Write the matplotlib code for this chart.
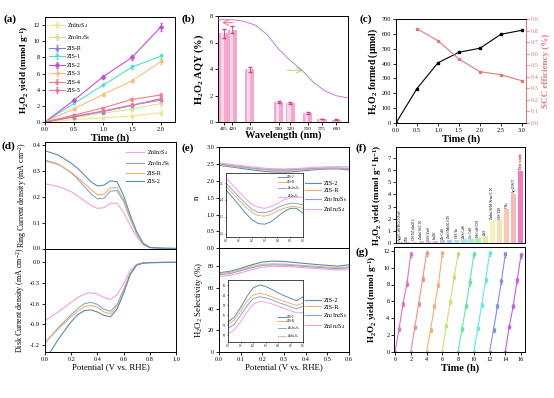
import numpy as np
import matplotlib
matplotlib.use('Agg')
import matplotlib.pyplot as plt

#%% Style
plt.rcParams['font.family'] = 'Liberation Serif'
plt.rcParams['mathtext.fontset'] = 'custom'
plt.rcParams['mathtext.rm'] = 'Liberation Serif'
plt.rcParams['mathtext.it'] = 'Liberation Serif:italic'
plt.rcParams['mathtext.bf'] = 'Liberation Serif:bold'
plt.rcParams['mathtext.default'] = 'regular'
plt.rcParams['axes.linewidth'] = 0.7
plt.rcParams['xtick.major.width'] = 0.6
plt.rcParams['ytick.major.width'] = 0.6
plt.rcParams['xtick.major.size'] = 2
plt.rcParams['ytick.major.size'] = 2
plt.rcParams['xtick.labelsize'] = 4.5
plt.rcParams['ytick.labelsize'] = 4.5
plt.rcParams['xtick.major.pad'] = 1.5
plt.rcParams['ytick.major.pad'] = 1.5

#%% Data
# (a) H2O2 yield vs time
time_a = [0, 0.5, 1.0, 1.5, 2.0]
samples_a = ['ZnIn$_2$S$_4$', 'Zn$_3$In$_2$S$_6$', 'ZIS-R', 'ZIS-1', 'ZIS-2', 'ZIS-3', 'ZIS-4', 'ZIS-5']
yield_znin2s4 = [0, 0.3, 0.5, 0.75, 1.15]
yield_zn3in2s6 = [0, 0.55, 1.1, 1.6, 2.3]
yield_zisr = [0, 0.65, 1.3, 2.05, 2.9]
yield_zis1 = [0, 2.3, 4.55, 6.8, 8.15]
yield_zis2 = [0, 2.7, 5.6, 8.0, 11.8]
yield_zis3 = [0, 1.65, 3.4, 5.1, 7.5]
yield_zis4 = [0, 0.85, 1.75, 2.8, 3.35]
yield_zis5 = [0, 0.7, 1.35, 2.1, 2.7]
err_a = [0, 0.12, 0.15, 0.2, 0.3]
err_zis2 = [0, 0.15, 0.25, 0.35, 0.5]

# (b) AQY vs wavelength
wavelength_b = [405, 420, 450, 500, 520, 550, 575, 600]
aqy_b = [6.7, 6.98, 3.98, 1.5, 1.43, 0.68, 0.22, 0.18]
aqy_err_b = [0.35, 0.3, 0.18, 0.08, 0.08, 0.05, 0.03, 0.03]
abs_wavelength = [395, 420, 440, 460, 480, 500, 520, 540, 560, 580, 600, 620]
abs_curve = [7.72, 7.72, 7.6, 7.3, 6.6, 5.5, 4.65, 3.92, 3.0, 2.35, 1.98, 1.82]

# (c) H2O2 formed and SCC efficiency
time_c = [0, 0.5, 1.0, 1.5, 2.0, 2.5, 3.0]
h2o2_formed = [0, 232, 405, 476, 503, 597, 624]
time_scc = [0.5, 1.0, 1.5, 2.0, 2.5, 3.0]
scc_eff = [0.816, 0.712, 0.554, 0.444, 0.418, 0.366]

# (d) RRDE ring / disk currents
potential_d = [0, 0.1, 0.2, 0.25, 0.3, 0.35, 0.4, 0.45, 0.5, 0.55, 0.6, 0.65, 0.7, 0.75, 0.8, 0.9, 1.0]
samples_d = ['ZnIn$_2$S$_4$', 'Zn$_3$In$_2$S$_6$', 'ZIS-R', 'ZIS-2']
ring_znin2s4 = [0.25, 0.24, 0.22, 0.203, 0.185, 0.168, 0.155, 0.158, 0.175, 0.175, 0.14, 0.09, 0.045, 0.014, 0.003, 0.001, 0.0]
ring_zn3in2s6 = [0.342, 0.327, 0.293, 0.268, 0.24, 0.212, 0.192, 0.194, 0.222, 0.224, 0.182, 0.115, 0.057, 0.017, 0.004, 0.001, 0.0]
ring_zisr = [0.338, 0.325, 0.295, 0.275, 0.252, 0.228, 0.208, 0.21, 0.235, 0.235, 0.19, 0.12, 0.06, 0.018, 0.004, 0.001, 0.0]
ring_zis2 = [0.378, 0.362, 0.33, 0.31, 0.285, 0.258, 0.242, 0.245, 0.262, 0.258, 0.205, 0.13, 0.065, 0.02, 0.004, 0.001, 0.0]
disk_znin2s4 = [-0.85, -0.72, -0.58, -0.51, -0.46, -0.44, -0.46, -0.51, -0.54, -0.47, -0.31, -0.12, -0.03, -0.01, -0.004, -0.002, 0.0]
disk_zn3in2s6 = [-1.17, -0.95, -0.76, -0.67, -0.60, -0.58, -0.61, -0.68, -0.71, -0.61, -0.40, -0.16, -0.035, -0.01, -0.004, -0.002, 0.0]
disk_zisr = [-1.16, -0.97, -0.79, -0.71, -0.645, -0.625, -0.65, -0.72, -0.75, -0.64, -0.42, -0.17, -0.037, -0.01, -0.004, -0.002, 0.0]
disk_zis2 = [-1.42, -1.12, -0.86, -0.76, -0.70, -0.69, -0.72, -0.77, -0.79, -0.68, -0.45, -0.18, -0.04, -0.012, -0.005, -0.002, 0.0]

# (e) electron transfer number and selectivity
potential_e = [0, 0.05, 0.1, 0.15, 0.2, 0.25, 0.3, 0.35, 0.4, 0.45, 0.5, 0.55, 0.6]
samples_e = ['ZIS-2', 'ZIS-R', 'Zn$_3$In$_2$S$_6$', 'ZnIn$_2$S$_4$']
n_zis2 = [2.46, 2.416, 2.37, 2.324, 2.284, 2.26, 2.256, 2.27, 2.30, 2.33, 2.35, 2.35, 2.32]
n_zisr = [2.48, 2.44, 2.40, 2.36, 2.328, 2.308, 2.304, 2.314, 2.334, 2.35, 2.36, 2.36, 2.35]
n_zn3in2s6 = [2.50, 2.46, 2.42, 2.38, 2.346, 2.326, 2.324, 2.334, 2.354, 2.37, 2.38, 2.38, 2.37]
n_znin2s4 = [2.53, 2.49, 2.45, 2.41, 2.376, 2.356, 2.35, 2.36, 2.38, 2.40, 2.414, 2.416, 2.416]
sel_zis2 = [74.0, 75.4, 78.2, 81.5, 84.1, 85.0, 84.6, 83.7, 82.7, 81.8, 81.05, 80.3, 81.5]
sel_zisr = [73.25, 74.5, 77.1, 80.1, 82.0, 82.5, 82.2, 81.5, 80.8, 80.1, 79.5, 78.9, 79.6]
sel_zn3in2s6 = [72.1, 73.3, 75.9, 78.7, 80.9, 81.5, 81.2, 80.6, 79.8, 79.2, 78.5, 77.9, 78.7]
sel_znin2s4 = [70.5, 71.6, 74.0, 76.8, 79.2, 80.1, 79.9, 79.4, 78.7, 78.0, 77.3, 76.7, 76.8]

# (f) comparison with reported catalysts
catalysts_f = ['Ag@CdS/RGO-ZnS', 'ZIS', 'CNT/ZnIn$_2$S$_4$', 'ZnIn$_2$S$_4$/CN', 'CdS/ZnS', 'In$_2$S$_3$',
               'Zn-CdS', 'ZnO/MoS$_2$/CN', 'CdS/In', 'ZnS/CdS', 'Co-CdS', 'Ni-CdS/CN', 'ZnS',
               'ZnIn$_2$S$_4$/MXene/CN', 'CdS/ZIS', 'CNs', 'Ag-ZIS/T', 'This work']
rates_f = [0.08, 0.09, 0.12, 0.15, 0.17, 0.19, 0.25, 0.28, 0.3, 0.33, 0.35, 0.4, 0.58, 1.8, 1.9, 2.8, 4.02, 5.9]
colors_f = ['#c8d0e8', '#c0c8f0', '#b8d0f0', '#c8c0f0', '#d8b8f0', '#d0b8f8', '#c0c0f8', '#b0c8f8', '#b0e0f8',
            '#a8e8f0', '#a8f0d0', '#b0f0b0', '#d8f0a8', '#f8f0b8', '#f8e0b8', '#f8c8b0', '#f8b8b8', '#f27bb8']

# (g) cycling test
cycle_starts = [0, 2, 4, 6, 8, 10, 12, 14]
cycle_time = [0, 0.5, 1.0, 1.5, 2.0]
cycle_yields = [
    [0, 2.7, 5.7, 8.1, 11.6],
    [0, 2.9, 5.7, 8.7, 11.7],
    [0, 2.6, 5.4, 8.0, 11.7],
    [0, 3.1, 5.9, 8.9, 11.6],
    [0, 2.7, 5.4, 8.3, 11.6],
    [0, 2.8, 5.6, 8.5, 11.7],
    [0, 2.6, 5.4, 8.4, 11.6],
    [0, 3.0, 5.4, 8.5, 11.5],
]
cycle_err = [0, 0.2, 0.25, 0.3, 0.3]
cycle_colors = ['#e070c8', '#f09088', '#f0b070', '#c8e070', '#60e8a0', '#60e8e8', '#8090e0', '#c060e0']

#%% Figure
W, H = 554, 398
fig = plt.figure(figsize=(W / 100, H / 100), dpi=100)

def px_axes(l, t, r, b):
    return fig.add_axes([l / W, 1 - b / H, (r - l) / W, (b - t) / H])

fmt1 = matplotlib.ticker.FormatStrFormatter('%.1f')
bold = dict(fontsize=7.5, fontweight='bold')
reg = dict(fontsize=5.8)

# (a)
ax = px_axes(45, 17, 175, 122)
colors_a = ['#f3e38a', '#c8e89a', '#8080e0', '#50e3c2', '#c050e0', '#f0c080', '#f08080', '#f070a0']
markers_a = ['s', 'o', '^', 'v', 'D', '<', '>', 'p']
series_a = [yield_znin2s4, yield_zn3in2s6, yield_zisr, yield_zis1, yield_zis2, yield_zis3, yield_zis4, yield_zis5]
for name, ys, c, m in zip(samples_a, series_a, colors_a, markers_a):
    e = err_zis2 if name == 'ZIS-2' else err_a
    ax.errorbar(time_a, ys, yerr=e, color=c, marker=m, ms=2.0, lw=0.8, elinewidth=0.6, capsize=1, label=name)
ax.set_xlim(0, 2.24); ax.set_ylim(0, 13)
ax.set_xticks([0, 0.5, 1.0, 1.5, 2.0]); ax.set_yticks(range(0, 13, 2))
ax.xaxis.set_major_formatter(fmt1)
ax.set_xlabel('Time (h)', labelpad=1, **bold)
ax.set_ylabel('H$_2$O$_2$ yield (mmol g$^{-1}$)', labelpad=2, fontsize=6.6, fontweight='bold')
ax.legend(loc='upper left', fontsize=4.3, frameon=False, handlelength=2.6, labelspacing=0.55,
          borderaxespad=0.3, handletextpad=0.4)

# (b)
ax = px_axes(218, 16, 348, 122)
ax.bar(wavelength_b, aqy_b, width=16, color='#f6a8cc', zorder=2)
ax.bar(np.array(wavelength_b) - 2, aqy_b, width=6, color='#fcd8ea', zorder=2)
ax.errorbar(wavelength_b, aqy_b, yerr=aqy_err_b, fmt='none', ecolor='#d04090', elinewidth=0.6, capsize=1.5, zorder=3)
ax.plot(abs_wavelength, abs_curve, color='#c878e0', lw=0.7, zorder=4)
ax.annotate('', xy=(397, 7.5), xytext=(426, 7.5),
            arrowprops=dict(arrowstyle='->', color='#f08090', lw=0.8))
ax.annotate('', xy=(547, 3.9), xytext=(510, 3.9),
            arrowprops=dict(arrowstyle='->', color='#b0e080', lw=0.8))
ax.set_xlim(395, 620); ax.set_ylim(0, 8)
ax.set_xticks(wavelength_b); ax.set_yticks([0, 2, 4, 6, 8])
ax.tick_params(axis='x', labelsize=3.8)
ax.set_xlabel('Wavelength (nm)', labelpad=0, **bold)
ax.set_ylabel('H$_2$O$_2$ AQY (%)', labelpad=3, **bold)

# (c)
ax = px_axes(396, 19, 526, 123)
ax.plot(time_c, h2o2_formed, 'k-s', ms=2, lw=0.8)
ax.set_xlim(0, 3.1); ax.set_ylim(0, 700)
ax.set_xticks([0, 0.5, 1.0, 1.5, 2.0, 2.5, 3.0]); ax.set_yticks(range(0, 701, 100))
ax.xaxis.set_major_formatter(fmt1)
ax.set_xlabel('Time (h)', labelpad=1, **bold)
ax.set_ylabel('H$_2$O$_2$ formed (\u03bcmol)', labelpad=1, fontsize=7, fontweight='bold')
ax2 = ax.twinx()
scc_color = '#e87878'
ax2.plot(time_scc, scc_eff, color=scc_color, marker='s', ms=1.8, lw=0.8)
ax2.set_ylim(0, 0.9); ax2.set_yticks(np.arange(0, 0.91, 0.1))
ax2.yaxis.set_major_formatter(fmt1)
ax2.tick_params(axis='y', colors=scc_color)
ax2.spines['right'].set_color(scc_color)
ax2.set_ylabel('SCC efficiency (%)', color=scc_color, labelpad=2, fontsize=6.5, fontweight='bold')

# (d)
colors_d = ['#f4a0e8', '#88a8d0', '#f0b070', '#5b8db0']
ax_top = px_axes(45, 142, 176, 248.5)
ax_bot = px_axes(45, 248.5, 176, 352)
for name, ring, disk, c in zip(samples_d, [ring_znin2s4, ring_zn3in2s6, ring_zisr, ring_zis2],
                               [disk_znin2s4, disk_zn3in2s6, disk_zisr, disk_zis2], colors_d):
    ax_top.plot(potential_d, ring, color=c, lw=0.8, label=name)
    ax_bot.plot(potential_d, disk, color=c, lw=0.8)
ax_top.set_xlim(0, 1); ax_top.set_ylim(0, 0.412)
ax_top.set_yticks([0.0, 0.1, 0.2, 0.3, 0.4])
ax_top.yaxis.set_major_formatter(fmt1)
ax_top.tick_params(axis='x', labelbottom=False, length=0)
ax_top.set_ylabel('Ring Current density (mA cm$^{-2}$)', labelpad=2, **reg)
ax_top.legend(loc='upper right', fontsize=4.3, frameon=False, handlelength=3.0, labelspacing=0.45,
              borderaxespad=0.6, handletextpad=0.5)
ax_bot.set_xlim(0, 1); ax_bot.set_ylim(-1.3, 0.2)
ax_bot.set_yticks([-1.2, -0.9, -0.6, -0.3, 0.0])
ax_bot.set_xticks([0, 0.2, 0.4, 0.6, 0.8, 1.0])
ax_bot.xaxis.set_major_formatter(fmt1)
ax_bot.yaxis.set_major_formatter(fmt1)
ax_bot.set_xlabel('Potential (V vs. RHE)', labelpad=1, fontsize=6.3)
ax_bot.set_ylabel('Disk Current density (mA cm$^{-2}$)', labelpad=2, **reg)

# (e)
colors_e = ['#5b8db0', '#f0b070', '#88a8d0', '#f4a0e8']
ax_top = px_axes(219, 147, 349, 248.3)
ax_bot = px_axes(219, 248.3, 349, 351.7)
ins_top = px_axes(226, 173, 303, 237)
ins_bot = px_axes(228, 280, 303, 342)
for name, nv, sv, c in zip(samples_e, [n_zis2, n_zisr, n_zn3in2s6, n_znin2s4],
                           [sel_zis2, sel_zisr, sel_zn3in2s6, sel_znin2s4], colors_e):
    ax_top.plot(potential_e, nv, color=c, lw=0.8, label=name)
    ax_bot.plot(potential_e, sv, color=c, lw=0.8, label=name)
    ins_top.plot(potential_e, nv, color=c, lw=0.7, label=name)
    ins_bot.plot(potential_e, sv, color=c, lw=0.7, label=name)
ax_top.set_xlim(0, 0.6); ax_top.set_ylim(0, 3)
ax_top.set_yticks(np.arange(0, 3.01, 0.5))
ax_top.yaxis.set_major_formatter(fmt1)
ax_top.tick_params(axis='x', labelbottom=False, length=0)
ax_top.set_ylabel('n', labelpad=4, fontsize=6.3)
ax_top.legend(loc='upper left', bbox_to_anchor=(0.64, 0.69), fontsize=4.5, frameon=False, handlelength=2.6,
              labelspacing=0.25, borderaxespad=0, handletextpad=0.4)
ax_bot.set_xlim(0, 0.6); ax_bot.set_ylim(0, 97)
ax_bot.set_yticks([0, 20, 40, 60, 80])
ax_bot.set_xticks(np.arange(0, 0.61, 0.1))
ax_bot.xaxis.set_major_formatter(fmt1)
ax_bot.set_xlabel('Potential (V vs. RHE)', labelpad=1, fontsize=6.3)
ax_bot.set_ylabel('H$_2$O$_2$ Selectivity (%)', labelpad=2, fontsize=6.3)
ax_bot.legend(loc='upper left', bbox_to_anchor=(0.64, 0.55), fontsize=4.5, frameon=False, handlelength=2.6,
              labelspacing=0.25, borderaxespad=0, handletextpad=0.4)
for ins, lim, ticks in [(ins_top, (2.18, 2.56), [2.2, 2.3, 2.4, 2.5]),
                        (ins_bot, (68, 86.5), [70, 73, 76, 79, 82, 85])]:
    ins.set_xlim(0, 0.6); ins.set_ylim(*lim)
    ins.set_yticks(ticks); ins.set_xticks(np.arange(0, 0.61, 0.1))
    ins.xaxis.set_major_formatter(fmt1)
    ins.tick_params(labelsize=2.2, length=1, pad=0.5, width=0.4)
    for s in ins.spines.values():
        s.set_linewidth(0.5)
ins_top.legend(loc='upper right', fontsize=2.3, frameon=False, handlelength=2.5, labelspacing=0.2,
               borderaxespad=0.3, handletextpad=0.4)
ins_bot.legend(loc='lower right', fontsize=2.3, frameon=False, handlelength=2.5, labelspacing=0.2,
               borderaxespad=0.3, handletextpad=0.4)

# (f)
ax = px_axes(395.7, 146.7, 525, 243.3)
xpos = np.arange(len(rates_f))
ax.bar(xpos, rates_f, width=0.75, color=colors_f)
for x, v, name in zip(xpos, rates_f, catalysts_f):
    ax.text(x, v + 0.1, name, rotation=90, ha='center', va='bottom', fontsize=2.8,
            color='#d01010' if name == 'This work' else 'black',
            fontweight='bold' if name == 'This work' else 'normal')
ax.set_xlim(-0.6, len(rates_f) - 0.4); ax.set_ylim(0, 7.9)
ax.set_xticks([]); ax.set_yticks(range(0, 8))
ax.set_ylabel('H$_2$O$_2$ yield (mmol g$^{-1}$ h$^{-1}$)', labelpad=3, fontsize=6.5, fontweight='bold')

# (g)
ax = px_axes(394.3, 246.7, 525, 351.7)
for t0, ys, c in zip(cycle_starts, cycle_yields, cycle_colors):
    ax.errorbar(np.array(cycle_time) + t0, ys, yerr=cycle_err, color=c, marker='s', ms=1.8, lw=0.8,
                elinewidth=0.5, capsize=1)
ax.set_xlim(-0.1, 16.5); ax.set_ylim(0, 12.5)
ax.set_xticks(range(0, 17, 2)); ax.set_yticks(range(0, 13, 2))
ax.set_xlabel('Time (h)', labelpad=1, **bold)
ax.set_ylabel('H$_2$O$_2$ yield (mmol g$^{-1}$)', labelpad=3, fontsize=6.5, fontweight='bold')

# Panel letters
for lab, x, y in [('(a)', 3, 19), ('(b)', 182, 19), ('(c)', 360, 19), ('(d)', 2, 146),
                  ('(e)', 182, 148), ('(f)', 355, 148), ('(g)', 355, 252)]:
    fig.text(x / W, 1 - y / H, lab, fontsize=8, fontweight='bold', va='center', ha='left')

plt.savefig('out.png', dpi=100)
